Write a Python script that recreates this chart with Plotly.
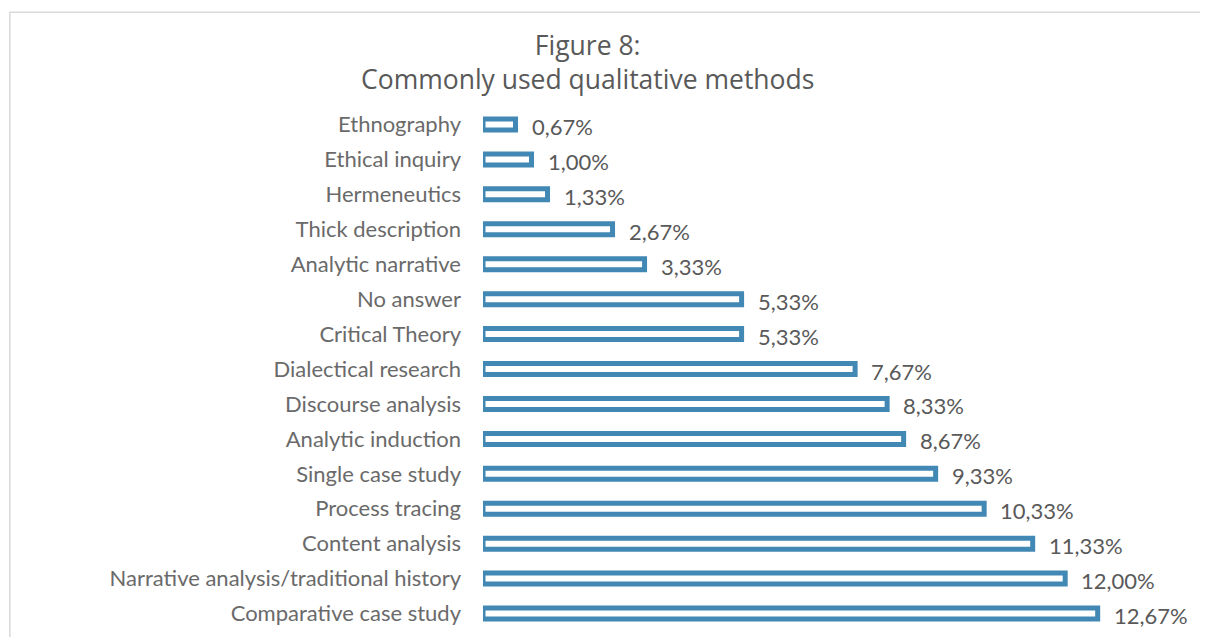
import plotly.graph_objects as go

categories = [
    "Ethnography", "Ethical inquiry", "Hermeneutics", "Thick description",
    "Analytic narrative", "No answer", "Critical Theory", "Dialectical research",
    "Discourse analysis", "Analytic induction", "Single case study",
    "Process tracing", "Content analysis", "Narrative analysis/traditional history",
    "Comparative case study",
]
values = [0.67, 1.00, 1.33, 2.67, 3.33, 5.33, 5.33, 7.67, 8.33, 8.67, 9.33,
          10.33, 11.33, 12.00, 12.67]
value_labels = [f"{v:.2f}%".replace(".", ",") for v in values]
title_lines = ["Figure 8:", "Commonly used qualitative methods"]

# page has an 8px body margin, so the figure is drawn 8px smaller and offset
W, H = 1200, 629
ml, mr, mt, mb = 474.5, 28, 98.5, 5.5
FONT = "Lato"
TFONT = "Open Sans"
GRAY = "#595959"
LGRAY = "#6a6a6a"
BLUE = "#4288b5"

pw = W - ml - mr
ph = H - mt - mb

fig = go.Figure()
fig.add_trace(go.Bar(
    x=values, y=categories, orientation="h", width=0.315,
    marker=dict(color="white", line=dict(color=BLUE, width=5)),
    hoverinfo="skip",
))

for c, v, t in zip(categories, values, value_labels):
    fig.add_annotation(x=v, y=c, text=t, xref="x", yref="y", xanchor="left",
                       yanchor="middle", showarrow=False, xshift=14, yshift=-2,
                       font=dict(family=FONT, size=22, color=GRAY))

# two-line title, centred at pixel y ~53.5 from figure top
fig.add_annotation(x=(587 - 8 - ml) / pw, y=1 + (mt - 53.5) / ph,
                   xref="paper", yref="paper", text="<br>".join(title_lines),
                   showarrow=False, xanchor="center", yanchor="middle",
                   align="center",
                   font=dict(family=TFONT, size=26.5, color=GRAY))

fig.add_shape(type="rect", xref="paper", yref="paper",
              x0=(1 - ml) / pw, x1=(W + 10 - ml) / pw,
              y0=(H - mb - (H + 10)) / ph, y1=(H - mb - 3.5) / ph,
              line=dict(color="#d9d9d9", width=1.5), fillcolor="rgba(0,0,0,0)")

fig.update_layout(
    width=W, height=H,
    margin=dict(l=ml, r=mr, t=mt, b=mb, pad=0),
    paper_bgcolor="white", plot_bgcolor="white",
    showlegend=False,
    xaxis=dict(range=[0, pw / 48.55], visible=False, fixedrange=True),
    yaxis=dict(autorange="reversed", showgrid=False, zeroline=False,
               showline=False, ticks="", ticklabelstandoff=21,
               tickfont=dict(family=FONT, size=22, color=LGRAY)),
)

fig.write_html("out.html")
